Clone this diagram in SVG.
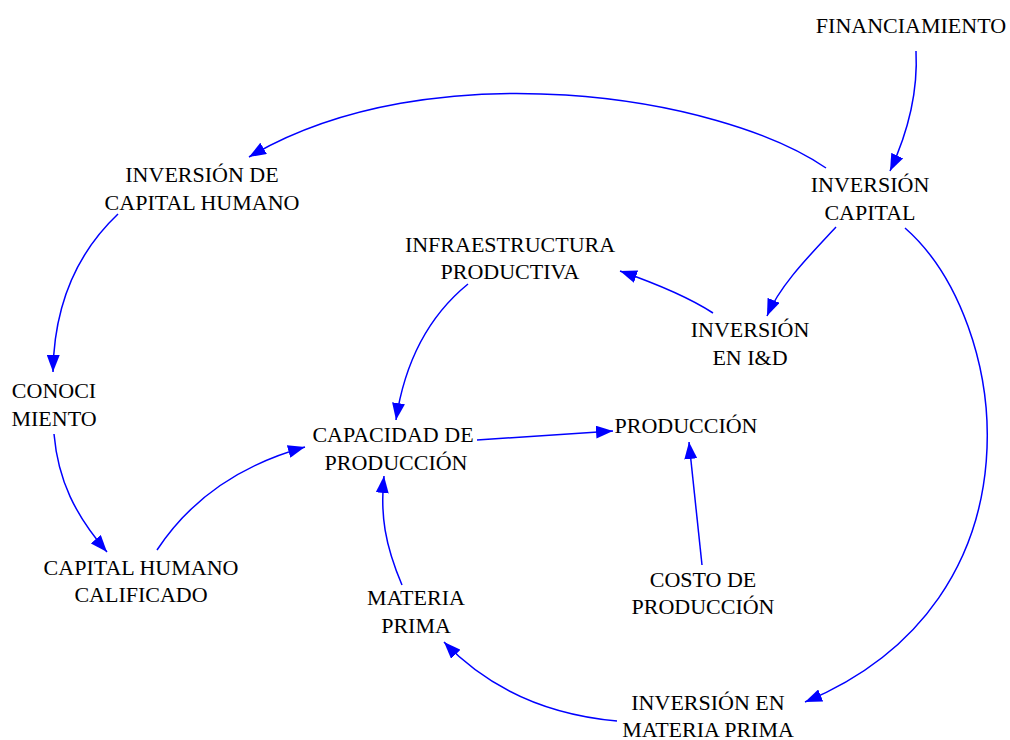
<svg xmlns="http://www.w3.org/2000/svg" width="1010" height="740" viewBox="0 0 1010 740">
<style>
text{font-family:"Liberation Serif","Times New Roman",serif;font-size:22px;fill:#000;text-anchor:middle}
.c{fill:none;stroke:#0000FF;stroke-width:1.5;marker-end:url(#ah)}
</style>
<defs>
<marker id="ah" markerUnits="userSpaceOnUse" markerWidth="19" markerHeight="13" refX="17" refY="6.5" orient="auto">
<path d="M0,0 L17,6.5 L0,13 z" fill="#0000FF"/>
</marker>
</defs>
<rect width="1010" height="740" fill="#fff"/>
<g id="connectors">
<path class="c" d="M916,51 C918,90 910,128 890,171"/>
<path class="c" d="M826,168 C720,95 430,50 249,157"/>
<path class="c" d="M118,214 C80,250 54,300 53,372"/>
<path class="c" d="M54,434 C58,480 75,515 107,552"/>
<path class="c" d="M157,550 C190,500 240,465 305,447"/>
<path class="c" d="M468,284 C430,315 405,360 396,420"/>
<path class="c" d="M713,313 C690,298 660,285 620,271"/>
<path class="c" d="M836,227 C810,255 780,285 767,316"/>
<path class="c" d="M905,228 C1010,320 1050,600 805,702"/>
<path class="c" d="M617,721 C550,715 490,690 444,642"/>
<path class="c" d="M402,585 C385,545 380,515 384,476"/>
<path class="c" d="M477,440 L613,431"/>
<path class="c" d="M702,565 L689,442"/>
</g>
<g id="financiamiento"><text x="911" y="33">FINANCIAMIENTO</text></g>
<g id="inversion-capital"><text x="870" y="192">INVERSIÓN</text><text x="870" y="220">CAPITAL</text></g>
<g id="inversion-capital-humano"><text x="202" y="182">INVERSIÓN DE</text><text x="202" y="210">CAPITAL HUMANO</text></g>
<g id="infraestructura"><text x="510" y="252">INFRAESTRUCTURA</text><text x="510" y="279">PRODUCTIVA</text></g>
<g id="inversion-id"><text x="750" y="337">INVERSIÓN</text><text x="750" y="365">EN I&amp;D</text></g>
<g id="conocimiento"><text x="54" y="398">CONOCI</text><text x="54" y="426">MIENTO</text></g>
<g id="capacidad"><text x="393" y="442">CAPACIDAD DE</text><text x="396" y="470">PRODUCCIÓN</text></g>
<g id="produccion"><text x="686" y="433">PRODUCCIÓN</text></g>
<g id="capital-humano-calificado"><text x="141" y="575">CAPITAL HUMANO</text><text x="141" y="602">CALIFICADO</text></g>
<g id="materia-prima"><text x="416" y="605">MATERIA</text><text x="416" y="633">PRIMA</text></g>
<g id="costo"><text x="703" y="587">COSTO DE</text><text x="703" y="614">PRODUCCIÓN</text></g>
<g id="inversion-materia"><text x="708" y="710">INVERSIÓN EN</text><text x="708" y="737">MATERIA PRIMA</text></g>
</svg>
